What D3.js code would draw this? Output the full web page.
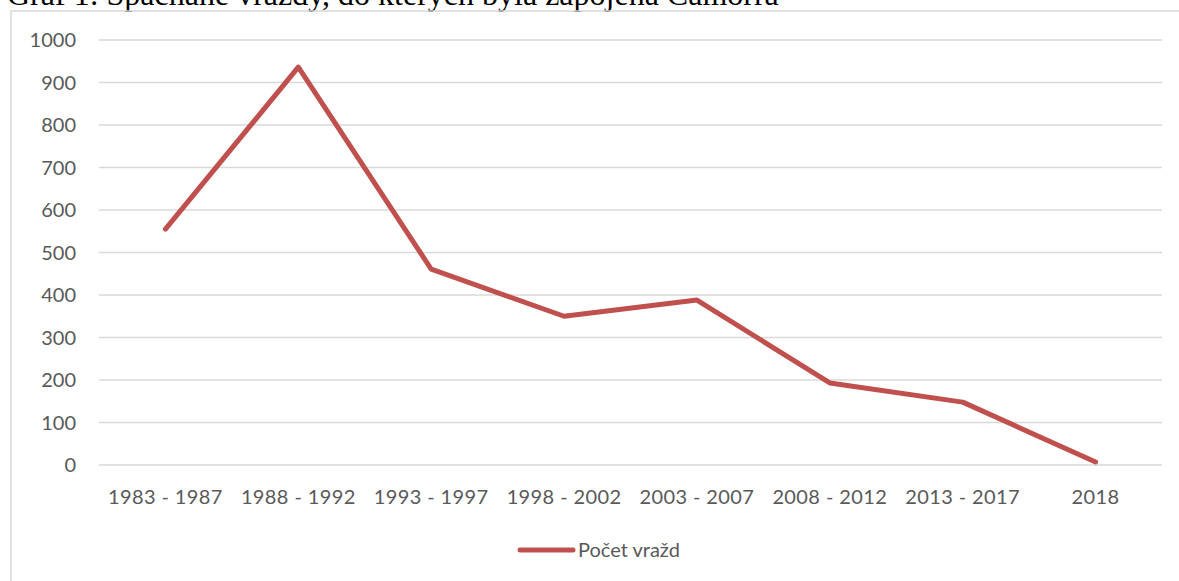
<!DOCTYPE html>
<html>
<head>
<meta charset="utf-8">
<script src="https://cdn.jsdelivr.net/npm/d3@7"></script>
<style>
  body { margin: 0; background: #fff; }
  svg { display: block; }
</style>
</head>
<body>
<div id="chart-area"></div>
<script>
// data
var periods = ["1983 - 1987", "1988 - 1992", "1993 - 1997", "1998 - 2002",
	"2003 - 2007", "2008 - 2012", "2013 - 2017", "2018"]
var murders = [555, 936, 461, 350, 388, 193, 148, 7]
var yTicks = [0, 100, 200, 300, 400, 500, 600, 700, 800, 900, 1000]
var seriesName = "Počet vražd"
var title = "Graf 1: Spáchané vraždy, do kterých byla zapojena Camorra"

var W = 1179, H = 581
var margin = { left: 99, right: 17, top: 40, bottom: 116 }

var svg = d3.select("#chart-area")
	.append("svg")
		.attr("width", W)
		.attr("height", H)

// title (cut off at top like the source)
svg.append("text")
	.attr("x", 7)
	.attr("y", 5)
	.attr("font-family", "'Liberation Serif', 'Times New Roman', serif")
	.attr("font-size", "32px")
	.attr("fill", "#000")
	.text(title)

// chart frame
svg.append("rect")
	.attr("x", 11)
	.attr("y", 11)
	.attr("width", W + 20)
	.attr("height", H + 20)
	.attr("fill", "none")
	.attr("stroke", "#d9d9d9")
	.attr("stroke-width", 1.5)

// scales
var x = d3.scaleBand()
	.domain(periods)
	.range([margin.left, W - margin.right])
var y = d3.scaleLinear()
	.domain([0, 1000])
	.range([H - margin.bottom, margin.top])

// gridlines
svg.append("g")
	.selectAll("line")
	.data(yTicks)
	.enter().append("line")
		.attr("x1", margin.left)
		.attr("x2", W - margin.right)
		.attr("y1", d => y(d))
		.attr("y2", d => y(d))
		.attr("stroke", "#d9d9d9")
		.attr("stroke-width", 1.5)

var font = "Lato, 'Open Sans', sans-serif"

// y labels
svg.append("g")
	.selectAll("text")
	.data(yTicks)
	.enter().append("text")
		.attr("x", 76)
		.attr("y", d => y(d))
		.attr("dy", "0.35em")
		.attr("text-anchor", "end")
		.attr("font-family", font)
		.attr("font-size", "20px")
		.attr("fill", "#595959")
		.text(d => d)

// x labels
svg.append("g")
	.selectAll("text")
	.data(periods)
	.enter().append("text")
		.attr("x", d => x(d) + x.bandwidth() / 2)
		.attr("y", 504)
		.attr("text-anchor", "middle")
		.attr("font-family", font)
		.attr("font-size", "20px")
		.attr("letter-spacing", "0.4px")
		.attr("fill", "#595959")
		.text(d => d)

// the line
var line = d3.line()
	.x((d, i) => x(periods[i]) + x.bandwidth() / 2)
	.y(d => y(d))

svg.append("path")
	.datum(murders)
	.attr("d", line)
	.attr("fill", "none")
	.attr("stroke", "#c0504d")
	.attr("stroke-width", 5)
	.attr("stroke-linejoin", "round")
	.attr("stroke-linecap", "round")

// legend
var legend = svg.append("g")
	.attr("transform", "translate(518, 550)")
legend.append("line")
	.attr("x1", 2)
	.attr("x2", 55)
	.attr("stroke", "#c0504d")
	.attr("stroke-width", 5)
	.attr("stroke-linecap", "round")
legend.append("text")
	.attr("x", 60)
	.attr("dy", "0.35em")
	.attr("font-family", font)
	.attr("font-size", "20px")
	.attr("fill", "#595959")
	.text(seriesName)
</script>
</body>
</html>
